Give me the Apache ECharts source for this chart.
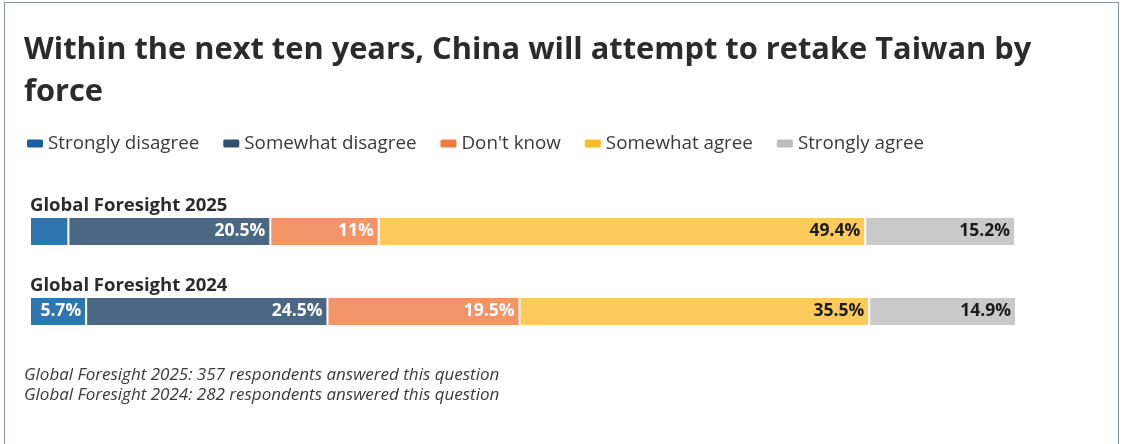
<!DOCTYPE html>
<html>
<head>
<meta charset="utf-8">
<script src="https://cdn.jsdelivr.net/npm/echarts@6/dist/echarts.min.js"></script>
<style>
  html, body { margin: 0; padding: 0; background: #fff; }
  #frame {
    position: absolute; left: 4px; top: 2px; width: 1115px; height: 460px;
    border: 1.5px solid #8594a3; border-bottom: none; box-sizing: border-box;
  }
  #chart { position: absolute; left: 0; top: 0; width: 1122px; height: 444px; }
</style>
</head>
<body>
<div id="frame"></div>
<div id="chart"></div>
<script>
// Survey waves, top to bottom
const waves = ['Global Foresight 2025', 'Global Foresight 2024'];

// Response shares (%) per wave, same order as waves
const stronglyDisagree = [3.9, 5.7];
const somewhatDisagree = [20.5, 24.5];
const dontKnow = [11, 19.5];
const somewhatAgree = [49.4, 35.5];
const stronglyAgree = [15.2, 14.9];

const responseNames = ['Strongly disagree', 'Somewhat disagree', "Don't know", 'Somewhat agree', 'Strongly agree'];
const legendColors = ['#1a5ea6', '#2e4f6e', '#f07b3f', '#fbbd2c', '#bdbdbd'];
const barColors = ['#2f76b1', '#4a6784', '#f29467', '#fdca5c', '#c9c9c9'];
const labelColors = ['#ffffff', '#ffffff', '#ffffff', '#1b1b1b', '#1b1b1b'];

const respondentNotes = [
  'Global Foresight 2025: 357 respondents answered this question',
  'Global Foresight 2024: 282 respondents answered this question'
];

const FONT = '"Open Sans", sans-serif';
const seriesValues = [stronglyDisagree, somewhatDisagree, dontKnow, somewhatAgree, stronglyAgree];

const chart = echarts.init(document.getElementById('chart'), null, { renderer: 'canvas' });

const series = seriesValues.map((vals, i) => ({
  name: responseNames[i],
  type: 'bar',
  stack: 'total',
  barWidth: 29,
  clip: false,
  itemStyle: { color: barColors[i], borderColor: '#ffffff', borderWidth: 1 },
  label: {
    show: true,
    position: 'insideRight',
    distance: 5,
    color: labelColors[i],
    fontFamily: FONT,
    fontWeight: 'bold',
    fontSize: 17.5,
    formatter: p => p.value + '%'
  },
  // narrow segments (under 5%) carry no label
  data: vals.map(v => (v < 5 ? { value: v, label: { show: false } } : v))
}));

chart.setOption({
  animation: false,
  title: [
    {
      text: 'Within the next ten years, China will attempt to retake Taiwan by\nforce',
      left: 24, top: 29,
      padding: 0,
      textStyle: { fontFamily: FONT, fontWeight: 'bold', fontSize: 30.8, lineHeight: 42, color: '#2b2b2b' }
    },
    {
      text: respondentNotes.join('\n'),
      left: 24, top: 365,
      padding: 0,
      textStyle: { fontFamily: FONT, fontStyle: 'italic', fontWeight: 'normal', fontSize: 17, lineHeight: 20, color: '#3a3a3a' }
    }
  ],
  legend: {
    left: 25, top: 134,
    padding: 0,
    icon: 'roundRect',
    itemWidth: 18, itemHeight: 10,
    itemGap: 22,
    textStyle: { fontFamily: FONT, fontSize: 18.8, color: '#3a3a3a', padding: [0, 0, 0, -1] },
    data: responseNames.map((n, i) => ({ name: n, itemStyle: { color: legendColors[i] } }))
  },
  grid: { left: 30, right: 107, top: 191.5, height: 160 },
  xAxis: { type: 'value', min: 0, max: 100, show: false },
  yAxis: {
    type: 'category',
    data: waves,
    inverse: true,
    axisLine: { show: false },
    axisTick: { show: false },
    splitLine: { show: false },
    axisLabel: {
      inside: true,
      margin: 0,
      verticalAlign: 'bottom',
      padding: [0, 0, 16, 0],
      fontFamily: FONT,
      fontWeight: 'bold',
      fontSize: 18.5,
      color: '#2b2b2b'
    }
  },
  series
});
</script>
</body>
</html>
